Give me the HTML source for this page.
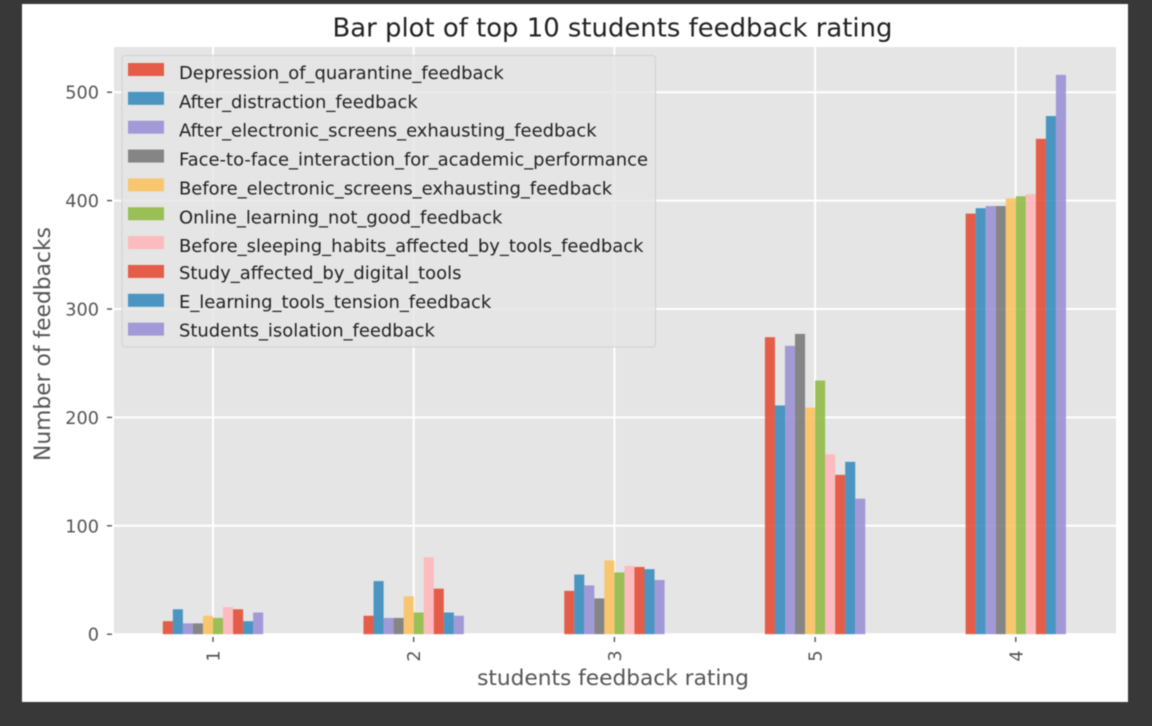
<!DOCTYPE html>
<html lang="en">
<head>
<meta charset="utf-8">
<title>Bar plot of top 10 students feedback rating</title>
<style>
html,body{margin:0;padding:0;width:1152px;height:726px;overflow:hidden;background:#383838;}
svg{display:block;filter:blur(0.5px);}
text{font-family:"DejaVu Sans","Liberation Sans",sans-serif;}
</style>
</head>
<body>
<svg id="chart" xmlns="http://www.w3.org/2000/svg" width="1152" height="726" viewBox="0 0 1152 726">
  <rect x="22" y="4" width="1106" height="698" fill="#ffffff"/>
  <rect x="114" y="47" width="1002" height="587" fill="#e5e5e5"/>
  <g id="grid"></g>
  <g id="bars"></g>
  <g id="ticks"></g>
  <g id="legend"></g>
  <text x="612.5" y="36.5" text-anchor="middle" font-size="25.9" fill="#222222">Bar plot of top 10 students feedback rating</text>
  <text x="613" y="685" text-anchor="middle" font-size="21.7" fill="#555555">students feedback rating</text>
  <text transform="translate(50,344) rotate(-90)" text-anchor="middle" font-size="21.8" fill="#555555">Number of feedbacks</text>
</svg>
<script>
const categories = ["1", "2", "3", "5", "4"];
const yTicks = [0, 100, 200, 300, 400, 500];
const seriesNames = [
  "Depression_of_quarantine_feedback",
  "After_distraction_feedback",
  "After_electronic_screens_exhausting_feedback",
  "Face-to-face_interaction_for_academic_performance",
  "Before_electronic_screens_exhausting_feedback",
  "Online_learning_not_good_feedback",
  "Before_sleeping_habits_affected_by_tools_feedback",
  "Study_affected_by_digital_tools",
  "E_learning_tools_tension_feedback",
  "Students_isolation_feedback"
];
const seriesColors = ["#E24A33", "#348ABD", "#988ED5", "#777777", "#FBC15E", "#8EBA42", "#FFB5B8", "#E24A33", "#348ABD", "#988ED5"];
const depressionOfQuarantine = [12, 17, 40, 274, 388];
const afterDistraction = [23, 49, 55, 211, 393];
const afterElectronicScreens = [10, 15, 45, 266, 395];
const faceToFaceInteraction = [10, 15, 33, 277, 395];
const beforeElectronicScreens = [17, 35, 68, 209, 402];
const onlineLearningNotGood = [15, 20, 57, 234, 404];
const beforeSleepingHabits = [25, 71, 63, 166, 406];
const studyAffectedByTools = [23, 42, 62, 147, 457];
const eLearningTension = [12, 20, 60, 159, 478];
const studentsIsolation = [20, 17, 50, 125, 516];
const seriesValues = [
  depressionOfQuarantine, afterDistraction, afterElectronicScreens, faceToFaceInteraction,
  beforeElectronicScreens, onlineLearningNotGood, beforeSleepingHabits, studyAffectedByTools,
  eLearningTension, studentsIsolation
];

const NS = "http://www.w3.org/2000/svg";
function xScale(position) { return 213 + 200.7 * position; }
function yScale(value) { return 634.2 - 1.084 * value; }
function make(parent, tag, attrs) {
  const el = document.createElementNS(NS, tag);
  for (const key in attrs) el.setAttribute(key, attrs[key]);
  parent.appendChild(el);
  return el;
}

const gridLayer = document.getElementById("grid");
const barLayer = document.getElementById("bars");
const tickLayer = document.getElementById("ticks");
const legendLayer = document.getElementById("legend");

yTicks.forEach(function (tick) {
  const y = yScale(tick);
  const line = make(gridLayer, "line", { x1: 114, x2: 1116, y1: y, y2: y, stroke: "#ffffff", "stroke-width": 2 });
  
  
  const mark = make(tickLayer, "line", { x1: 107, x2: 112, y1: y, y2: y, stroke: "#555555", "stroke-width": 1.4 });
  
  
  const label = make(tickLayer, "text", { x: 99, y: y + 6.5, "text-anchor": "end", "font-size": 17.7, fill: "#555555" });
  
  
  label.textContent = tick;
});

categories.forEach(function (category, index) {
  const x = xScale(index);
  const line = make(gridLayer, "line", { x1: x, x2: x, y1: 47, y2: 634, stroke: "#ffffff", "stroke-width": 2 });
  
  
  const mark = make(tickLayer, "line", { x1: x, x2: x, y1: 637, y2: 642, stroke: "#555555", "stroke-width": 1.4 });
  
  
  const label = make(tickLayer, "text", { transform: "translate(" + (x + 6.5) + ",656) rotate(-90)", "text-anchor": "middle", "font-size": 17.7, fill: "#555555" });
  
  
  label.textContent = category;
});

const groupWidth = 0.5;
const barCount = seriesValues.length;
seriesValues.forEach(function (values, seriesIndex) {
  values.forEach(function (value, categoryIndex) {
    const left = xScale(categoryIndex - groupWidth / 2 + groupWidth * seriesIndex / barCount);
    const right = xScale(categoryIndex - groupWidth / 2 + groupWidth * (seriesIndex + 1) / barCount);
    const top = yScale(value);
    const bar = make(barLayer, "rect", {
      x: left, y: top, width: right - left, height: yScale(0) - top,
      fill: seriesColors[seriesIndex], "fill-opacity": 0.88
    });
    
    
  });
});

const legendBox = make(legendLayer, "rect", {
  x: 122, y: 55.5, width: 533.5, height: 291.5, rx: 3,
  fill: "#e5e5e5", "fill-opacity": 0.8, stroke: "#cccccc", "stroke-opacity": 0.8, "stroke-width": 1
});



seriesNames.forEach(function (name, index) {
  const rowY = 63 + 28.85 * index;
  const textShift = index >= 7 ? -2 : 0;
  const swatch = make(legendLayer, "rect", { x: 128, y: rowY, width: 36, height: 13, fill: seriesColors[index], "fill-opacity": 0.88 });
  
  
  const label = make(legendLayer, "text", { x: 179, y: rowY + 16 + textShift, "font-size": 17.95, fill: "#222222" });
  
  
  label.textContent = name;
});
</script>
</body>
</html>
